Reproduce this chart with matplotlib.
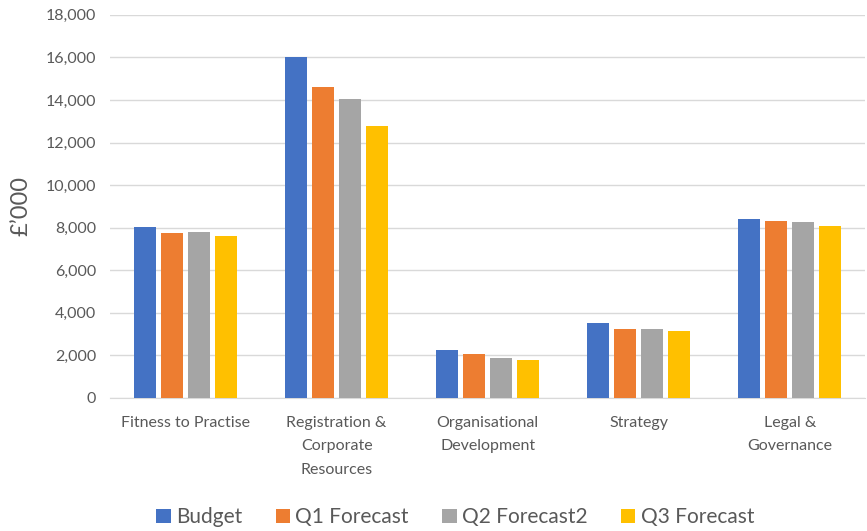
import matplotlib
matplotlib.use("Agg")
import matplotlib.pyplot as plt
import numpy as np

categories = ["Fitness to Practise", "Registration &\nCorporate\nResources",
              "Organisational\nDevelopment", "Strategy", "Legal &\nGovernance"]
series_names = ["Budget", "Q1 Forecast", "Q2 Forecast2", "Q3 Forecast"]
budget = [8020, 16040, 2250, 3520, 8410]
q1 = [7750, 14610, 2070, 3220, 8330]
q2 = [7800, 14060, 1890, 3230, 8280]
q3 = [7620, 12780, 1780, 3150, 8080]
colors = ["#4472C4", "#ED7D31", "#A5A5A5", "#FFC000"]

plt.rcParams['font.family'] = ['Lato', 'DejaVu Sans']

fig = plt.figure(figsize=(8.67, 5.31), dpi=100)
ax = fig.add_axes([0.127, 0.2505, 0.871, 0.7215])

x = np.arange(len(categories))
width = 0.146
step = 0.179
for i, (vals, name, c) in enumerate(zip([budget, q1, q2, q3], series_names, colors)):
    ax.bar(x + (i - 1.5) * step, vals, width, color=c, label=name, zorder=3)

ax.set_xlim(-0.5, len(categories) - 0.5)
ax.set_ylim(0, 18000)
ax.set_yticks(np.arange(0, 18001, 2000))
ax.set_yticklabels([f"{v:,}" for v in range(0, 18001, 2000)])
ax.yaxis.grid(True, color="#D9D9D9", linewidth=1, zorder=0)
for s in ["top", "right", "left"]:
    ax.spines[s].set_visible(False)
ax.spines["bottom"].set_color("#D9D9D9")
ax.tick_params(axis="both", length=0, colors="#595959", labelsize=11.5)
ax.tick_params(axis="x", pad=13)
ax.tick_params(axis="y", pad=10)
ax.set_xticks(x)
ax.set_xticklabels(categories, va="top", linespacing=1.85)
ax.set_ylabel("£’000", fontsize=17, color="#595959", labelpad=10)

leg = fig.legend(loc="lower center", bbox_to_anchor=(0.525, -0.028), ncol=4, frameon=False,
                 fontsize=15, handlelength=0.7, handleheight=0.7, handletextpad=0.25,
                 columnspacing=1.6)
for t in leg.get_texts():
    t.set_color("#595959")

fig.savefig("out.png", dpi=100)
